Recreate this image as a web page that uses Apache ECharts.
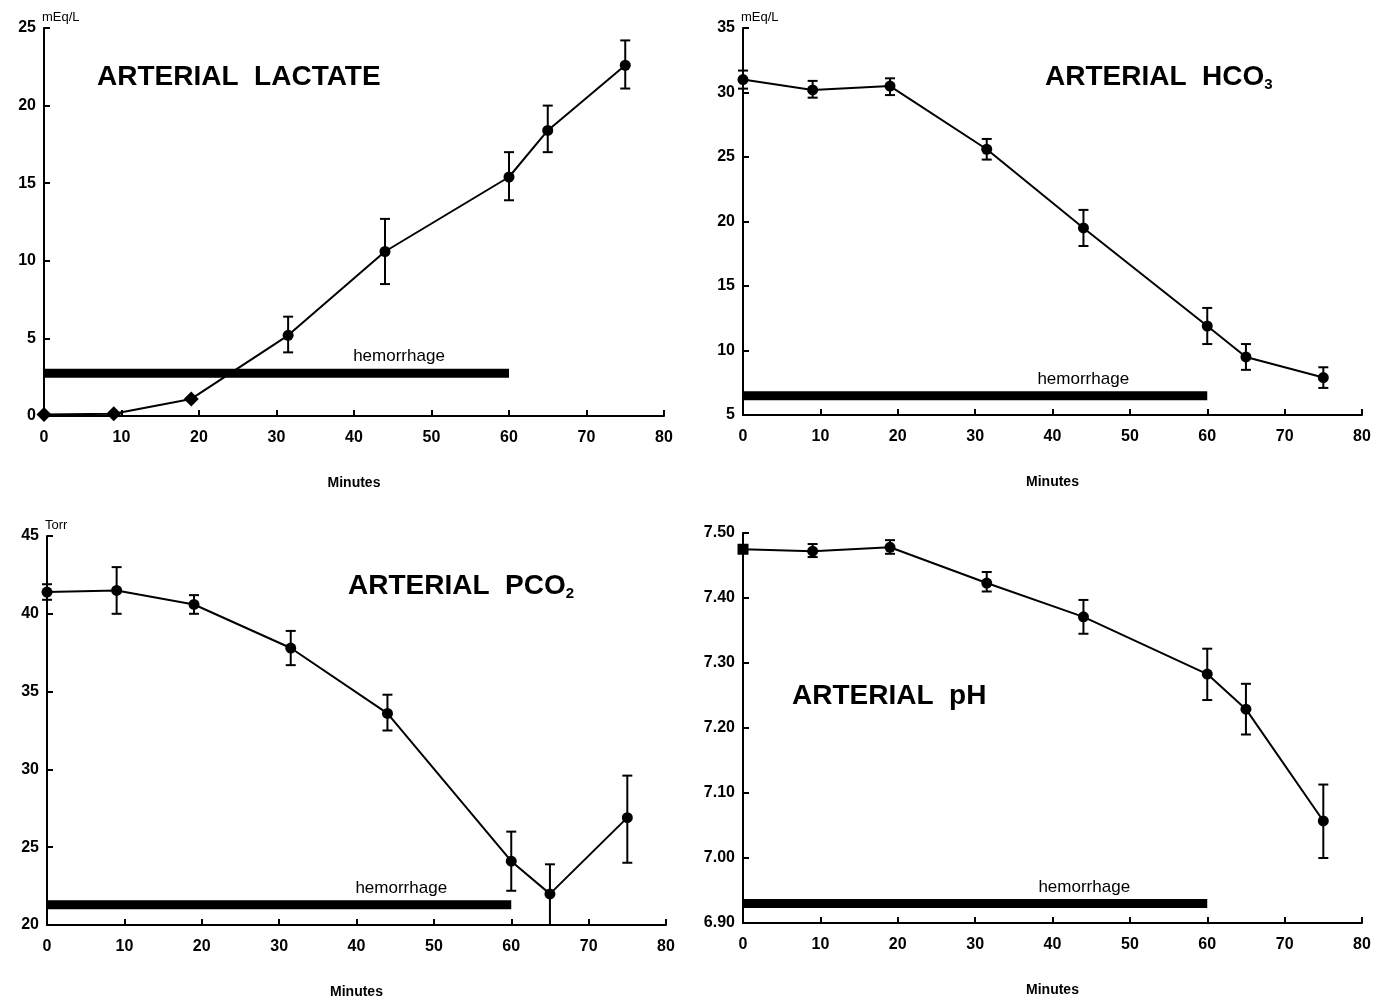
<!DOCTYPE html>
<html>
<head>
<meta charset="utf-8">
<script src="https://cdn.jsdelivr.net/npm/echarts@6/dist/echarts.min.js"></script>
<style>
  html,body{margin:0;padding:0;background:#fff;}
  #chart{width:1393px;height:1001px;}
</style>
</head>
<body>
<div id="chart"></div>
<script>
// sampling times (minutes)
const minutes = [0, 9, 19, 31.5, 44, 60, 65, 75];
const xTicks = [0, 80, 10];
const hemorrhageSpan = [0, 60];

// arterial lactate, mEq/L
const lactate     = [0.1, 0.15, 1.1, 5.2, 10.6, 15.4, 18.4, 22.6];
const lactateLow  = [null, null, null, 4.1, 8.5, 13.9, 17.0, 21.1];
const lactateHigh = [null, null, null, 6.4, 12.7, 17.0, 20.0, 24.2];
const lactateHem  = 2.75;

// arterial HCO3, mEq/L
const hco3     = [31.0, 30.2, 30.5, 25.6, 19.5, 11.9, 9.5, 7.9];
const hco3Low  = [30.3, 29.6, 29.8, 24.8, 18.1, 10.5, 8.5, 7.1];
const hco3High = [31.7, 30.9, 31.1, 26.4, 20.9, 13.3, 10.5, 8.7];
const hco3Hem  = 6.5;

// arterial PCO2, Torr
const pco2     = [41.4, 41.5, 40.6, 37.8, 33.6, 24.1, 22.0, 26.9];
const pco2Low  = [40.9, 40.0, 40.0, 36.7, 32.5, 22.2, 20.0, 24.0];
const pco2High = [41.9, 43.0, 41.2, 38.9, 34.8, 26.0, 23.9, 29.6];
const pco2Hem  = 21.3;

// arterial pH
const ph     = [7.475, 7.472, 7.478, 7.423, 7.371, 7.283, 7.229, 7.057];
const phLow  = [7.470, 7.463, 7.468, 7.410, 7.345, 7.243, 7.190, 7.000];
const phHigh = [7.480, 7.483, 7.489, 7.440, 7.397, 7.322, 7.268, 7.113];
const phHem  = 6.93;

const lactateSymbols = ['diamond','diamond','diamond','circle','circle','circle','circle','circle'];
const phSymbols = ['rect','circle','circle','circle','circle','circle','circle','circle'];

const FONT = 'Liberation Sans';
const grids = [
  {left:44, top:28, width:620, height:388},
  {left:743, top:28, width:619, height:387},
  {left:47, top:536, width:619, height:389},
  {left:743, top:533, width:619, height:390}
];

const panels = [
  {vals:lactate, low:lactateLow, high:lactateHigh, hem:lactateHem, min:0, max:25, step:5, unit:'mEq/L', symbols:lactateSymbols, dec:0, hemOffset:[-110,-4]},
  {vals:hco3, low:hco3Low, high:hco3High, hem:hco3Hem, min:5, max:35, step:5, unit:'mEq/L', symbols:null, dec:0, hemOffset:[-124,-3]},
  {vals:pco2, low:pco2Low, high:pco2High, hem:pco2Hem, min:20, max:45, step:5, unit:'Torr', symbols:null, dec:0, hemOffset:[-110,-3]},
  {vals:ph, low:phLow, high:phHigh, hem:phHem, min:6.9, max:7.5, step:0.1, unit:'', symbols:phSymbols, dec:2, hemOffset:[-123,-3]}
];

const xAxes = [], yAxes = [], series = [];
panels.forEach((p, i) => {
  xAxes.push({
    gridIndex:i, type:'value', min:xTicks[0], max:xTicks[1], interval:xTicks[2],
    name:'Minutes', nameLocation:'middle', nameGap:60,
    nameTextStyle:{color:'#000', fontFamily:FONT, fontSize:14, fontWeight:'bold'},
    axisLine:{show:true, onZero:false, lineStyle:{color:'#000', width:2}},
    axisTick:{show:true, inside:true, length:6, lineStyle:{color:'#000', width:2}},
    axisLabel:{color:'#000', fontFamily:FONT, fontSize:16, fontWeight:'bold', margin:14},
    splitLine:{show:false}
  });
  yAxes.push({
    gridIndex:i, type:'value', min:p.min, max:p.max, interval:p.step,
    name:p.unit, nameLocation:'end', nameGap:4,
    nameTextStyle:{color:'#000', fontFamily:FONT, fontSize:13, align:'left', padding:[0,0,0,-2]},
    axisLine:{show:true, onZero:false, lineStyle:{color:'#000', width:2}},
    axisTick:{show:true, inside:true, length:6, lineStyle:{color:'#000', width:2}},
    axisLabel:{color:'#000', fontFamily:FONT, fontSize:16, fontWeight:'bold', margin:8,
      formatter:v => v.toFixed(p.dec)},
    splitLine:{show:false}
  });
  // hemorrhage bar
  series.push({
    type:'line', xAxisIndex:i, yAxisIndex:i, silent:true,
    symbol:'circle', symbolSize:0, showSymbol:true,
    itemStyle:{color:'#000'},
    lineStyle:{color:'#000', width:9, cap:'butt'},
    data:[
      {value:[hemorrhageSpan[0], p.hem]},
      {value:[hemorrhageSpan[1], p.hem],
       label:{show:true, position:'top', formatter:'hemorrhage', offset:p.hemOffset,
         color:'#000', fontFamily:FONT, fontSize:17}}
    ],
    z:1
  });
  // mean line
  series.push({
    type:'line', xAxisIndex:i, yAxisIndex:i,
    data:minutes.map((m, k) => {
      const s = p.symbols ? p.symbols[k] : 'circle';
      return {value:[m, p.vals[k]], symbol:s, symbolSize:s === 'diamond' ? 15 : 11};
    }),
    showSymbol:true,
    itemStyle:{color:'#000'},
    lineStyle:{color:'#000', width:2},
    z:3
  });
  // error bars
  series.push({
    type:'custom', xAxisIndex:i, yAxisIndex:i,
    data:minutes.map((m, k) => [m, p.low[k], p.high[k]]),
    renderItem:(params, api) => {
      const lo = api.value(1), hi = api.value(2);
      if (lo == null || hi == null || isNaN(lo) || isNaN(hi)) return null;
      const a = api.coord([api.value(0), hi]);
      const b = api.coord([api.value(0), lo]);
      const w = 5;
      const st = {stroke:'#000', lineWidth:2};
      return {type:'group', children:[
        {type:'line', shape:{x1:a[0], y1:a[1], x2:b[0], y2:b[1]}, style:st},
        {type:'line', shape:{x1:a[0]-w, y1:a[1], x2:a[0]+w, y2:a[1]}, style:st},
        {type:'line', shape:{x1:b[0]-w, y1:b[1], x2:b[0]+w, y2:b[1]}, style:st}
      ]};
    },
    z:2
  });
});

const titleStyle = {color:'#000', fontFamily:FONT, fontSize:28, fontWeight:'bold',
  rich:{sub:{color:'#000', fontFamily:FONT, fontSize:15, fontWeight:'bold', verticalAlign:'bottom', padding:[14,0,0,0]}}};

const option = {
  backgroundColor:'#fff',
  animation:false,
  title:[
    {text:'ARTERIAL  LACTATE', left:92, top:58, textStyle:titleStyle},
    {text:'ARTERIAL  HCO{sub|3}', left:1040, top:58, textStyle:titleStyle},
    {text:'ARTERIAL  PCO{sub|2}', left:343, top:567, textStyle:titleStyle},
    {text:'ARTERIAL  pH', left:787, top:677, textStyle:titleStyle}
  ],
  grid:grids,
  xAxis:xAxes,
  yAxis:yAxes,
  series:series
};

const chart = echarts.init(document.getElementById('chart'), null, {renderer:'canvas'});
chart.setOption(option);
</script>
</body>
</html>
